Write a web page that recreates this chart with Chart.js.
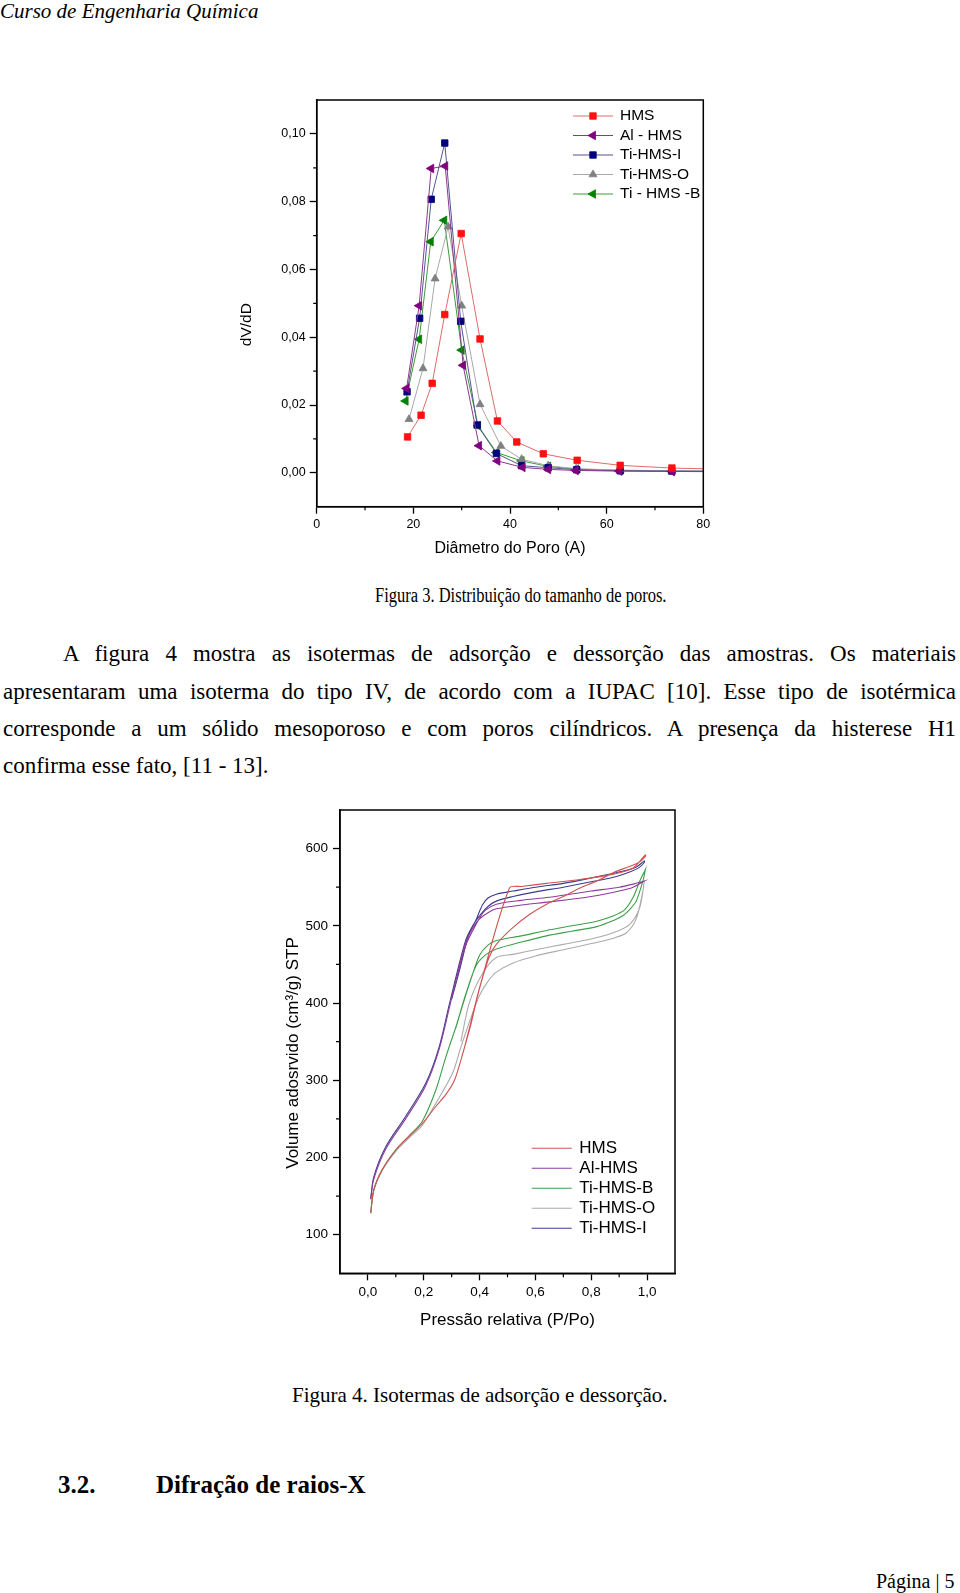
<!DOCTYPE html>
<html>
<head>
<meta charset="utf-8">
<script src="https://cdn.jsdelivr.net/npm/chart.js@4.4.1/dist/chart.umd.min.js"></script>
<style>
  body { margin: 0; background: #fff; }
  #page { position: relative; width: 960px; height: 1593px; overflow: hidden; font-family: 'Liberation Serif', 'Times New Roman', serif; color: #000; }
  .t { position: absolute; white-space: nowrap; line-height: 1; }
  .just { white-space: normal; text-align: justify; text-align-last: justify; }
  canvas { position: absolute; }
</style>
</head>
<body>
<div id="page">
  <div class="t" style="left:0;top:0.5px;font-size:21px;font-style:italic;">Curso de Engenharia Química</div>

  <canvas id="poros" width="520" height="500" style="left:200px;top:80px;"></canvas>

  <div class="t" style="left:375px;top:585px;font-size:20px;transform:scaleX(0.825);transform-origin:left center;">Figura 3. Distribuição do tamanho de poros.</div>

  <div class="t just" style="left:63px;top:641.5px;width:893px;font-size:23px;">A figura 4 mostra as isotermas de adsorção e dessorção das amostras. Os materiais</div>
  <div class="t just" style="left:3px;top:679.5px;width:953px;font-size:23px;">apresentaram uma isoterma do tipo IV, de acordo com a IUPAC [10]. Esse tipo de isotérmica</div>
  <div class="t just" style="left:3px;top:716.5px;width:953px;font-size:23px;">corresponde a um sólido mesoporoso e com poros cilíndricos. A presença da histerese H1</div>
  <div class="t" style="left:3px;top:753.5px;font-size:23px;">confirma esse fato, [11 - 13].</div>

  <canvas id="isotermas" width="450" height="550" style="left:250px;top:790px;"></canvas>

  <div class="t" style="left:292px;top:1384.5px;font-size:21px;">Figura 4. Isotermas de adsorção e dessorção.</div>

  <div class="t" style="left:58px;top:1471.5px;font-size:25px;font-weight:bold;">3.2.</div>
  <div class="t" style="left:156px;top:1471.5px;font-size:25px;font-weight:bold;">Difração de raios-X</div>

  <div class="t" style="left:876px;top:1571px;font-size:20px;">Página | 5</div>
</div>

<script>
// Figura 3 - distribuicao do tamanho de poros
const poreTicks = [0, 20, 40, 60, 80];
const poreMinor = [10, 30, 50, 70];
const dvTicks = [0, 0.02, 0.04, 0.06, 0.08, 0.10];
const dvMinor = [0.01, 0.03, 0.05, 0.07, 0.09];

const hmsD = [18.8, 21.6, 23.9, 26.5, 29.9, 33.8, 37.4, 41.4, 46.9, 53.9, 62.8, 73.5, 86];
const hmsDv = [0.0106, 0.0170, 0.0264, 0.0467, 0.0706, 0.0395, 0.0153, 0.0091, 0.0056, 0.0037, 0.0022, 0.0014, 0.0010];
const alD = [18.6, 21.2, 23.7, 26.6, 30.3, 33.6, 37.4, 42.6, 47.9, 53.6, 62.6, 73.5, 86];
const alDv = [0.0249, 0.0493, 0.0898, 0.0905, 0.0317, 0.0080, 0.0035, 0.0016, 0.0010, 0.0007, 0.0005, 0.0004, 0.0003];
const tiID = [18.7, 21.3, 23.7, 26.5, 29.8, 33.2, 37.2, 42.4, 47.9, 53.8, 62.8, 73.5, 86];
const tiIDv = [0.0239, 0.0456, 0.0807, 0.0973, 0.0447, 0.0141, 0.0057, 0.0021, 0.0015, 0.0009, 0.0006, 0.0005, 0.0004];
const tiOD = [19.1, 22.0, 24.5, 27.2, 30.0, 33.8, 38.1, 42.4, 47.9, 53.7, 62.8, 73.5, 86];
const tiODv = [0.0158, 0.0308, 0.0573, 0.0726, 0.0493, 0.0202, 0.0079, 0.0040, 0.0021, 0.0012, 0.0008, 0.0006, 0.0005];
const tiBD = [18.4, 21.2, 23.6, 26.4, 30.0, 33.4, 37.2, 42.4, 47.9, 53.7, 62.8, 73.5, 86];
const tiBDv = [0.0212, 0.0394, 0.0682, 0.0745, 0.0362, 0.0139, 0.0060, 0.0035, 0.0019, 0.0011, 0.0007, 0.0005, 0.0004];

// Figura 4 - isotermas (adsorcao e dessorcao)
const presTicks = [0, 0.2, 0.4, 0.6, 0.8, 1.0];
const presMinor = [0.1, 0.3, 0.5, 0.7, 0.9];
const volTicks = [100, 200, 300, 400, 500, 600];
const volMinor = [150, 250, 350, 450, 550];

const hmsAdsP = [0.01, 0.021, 0.051, 0.10, 0.147, 0.195, 0.243, 0.28, 0.31, 0.34, 0.37, 0.39, 0.41, 0.435, 0.46, 0.52, 0.58, 0.64, 0.70, 0.76, 0.82, 0.88, 0.93, 0.97, 0.994];
const hmsAdsV = [128, 158, 184, 210, 227, 244, 266, 282, 300, 335, 374, 405, 432, 460, 476, 498, 515, 528, 538, 549, 558, 569, 576, 582, 590];
const hmsDesP = [0.994, 0.95, 0.88, 0.76, 0.64, 0.55, 0.507, 0.40, 0.37, 0.345];
const hmsDesV = [592, 575, 567, 560, 555, 551, 549, 420, 377, 341];

const alAdsP = [0.01, 0.021, 0.064, 0.135, 0.207, 0.255, 0.295, 0.35, 0.38, 0.40, 0.43, 0.46, 0.55, 0.65, 0.80, 0.90, 0.95, 0.99];
const alAdsV = [146, 172, 211, 250, 293, 340, 399, 478, 500, 509, 517, 522, 527, 531, 538, 545, 550, 558];
const alDesP = [0.99, 0.95, 0.90, 0.80, 0.65, 0.55, 0.46, 0.42, 0.40, 0.38, 0.35, 0.32];
const alDesV = [558, 554, 550, 545, 537, 533, 528, 520, 510, 497, 474, 434];

const tiBAdsP = [0.01, 0.021, 0.051, 0.10, 0.147, 0.195, 0.243, 0.279, 0.315, 0.351, 0.387, 0.42, 0.46, 0.55, 0.64, 0.73, 0.82, 0.88, 0.913, 0.94, 0.961, 0.985, 0.994];
const tiBAdsV = [128, 158, 184, 210, 228, 247, 287, 330, 369, 412, 448, 462, 470, 479, 487, 493, 499, 507, 513, 522, 532, 558, 573];
const tiBDesP = [0.994, 0.974, 0.95, 0.92, 0.88, 0.82, 0.73, 0.64, 0.55, 0.46, 0.43, 0.40, 0.37, 0.34, 0.315];
const tiBDesV = [573, 558, 537, 521, 513, 506, 500, 494, 487, 481, 475, 462, 432, 398, 368];

const tiOAdsP = [0.01, 0.021, 0.051, 0.10, 0.147, 0.195, 0.243, 0.303, 0.333, 0.363, 0.40, 0.43, 0.46, 0.52, 0.60, 0.70, 0.80, 0.88, 0.926, 0.961, 0.985, 0.99];
const tiOAdsV = [128, 157, 183, 208, 225, 242, 270, 309, 343, 375, 410, 428, 440, 452, 461, 469, 477, 484, 491, 509, 545, 558];
const tiODesP = [0.99, 0.974, 0.938, 0.878, 0.80, 0.70, 0.60, 0.52, 0.46, 0.41, 0.363, 0.333];
const tiODesV = [558, 524, 502, 491, 483, 476, 469, 463, 459, 438, 400, 350];

const tiIAdsP = [0.01, 0.021, 0.064, 0.135, 0.207, 0.255, 0.292, 0.35, 0.38, 0.40, 0.43, 0.46, 0.52, 0.60, 0.70, 0.80, 0.88, 0.94, 0.97, 0.99];
const tiIAdsV = [146, 175, 214, 253, 296, 343, 399, 481, 503, 513, 525, 532, 538, 544, 550, 557, 563, 570, 575, 582];
const tiIDesP = [0.99, 0.96, 0.88, 0.80, 0.70, 0.60, 0.52, 0.46, 0.43, 0.41, 0.39, 0.36, 0.33, 0.30];
const tiIDesV = [584, 576, 568, 562, 555, 550, 545, 541, 536, 527, 510, 487, 445, 405];

Chart.defaults.color = '#000';
Chart.defaults.font.family = '"Liberation Sans", Arial, sans-serif';

const xy = (xs, ys) => xs.map((v, i) => ({ x: v, y: ys[i] }));
const comma = d => v => v.toFixed(d).replace('.', ',');

// caixa, ticks menores e titulos dos eixos
const frame = {
  id: 'frame',
  afterDraw(chart, args, o) {
    const { ctx, chartArea: a, scales } = chart;
    ctx.save();
    ctx.strokeStyle = '#000';
    ctx.lineWidth = 1.5;
    ctx.strokeRect(a.left, a.top, a.right - a.left, a.bottom - a.top);
    ctx.lineWidth = 1.2;
    ctx.beginPath();
    o.xMinor.forEach(v => {
      const px = scales.x.getPixelForValue(v);
      ctx.moveTo(px, a.bottom);
      ctx.lineTo(px, a.bottom + o.minorLen);
    });
    o.yMinor.forEach(v => {
      const py = scales.y.getPixelForValue(v);
      ctx.moveTo(a.left, py);
      ctx.lineTo(a.left - o.minorLen, py);
    });
    ctx.stroke();
    ctx.fillStyle = '#000';
    ctx.textAlign = 'center';
    ctx.textBaseline = 'middle';
    ctx.font = o.xTitleFont;
    ctx.fillText(o.xTitle, (a.left + a.right) / 2, o.xTitleY);
    ctx.font = o.yTitleFont;
    ctx.translate(o.yTitleX, o.yTitleY);
    ctx.rotate(-Math.PI / 2);
    ctx.fillText(o.yTitle, 0, 0);
    ctx.restore();
  }
};

const sideLegend = {
  id: 'sideLegend',
  afterDraw(chart, args, o) {
    const ctx = chart.ctx;
    ctx.save();
    ctx.font = o.font;
    ctx.textAlign = 'left';
    ctx.textBaseline = 'middle';
    chart.data.datasets.forEach((ds, i) => {
      const y = o.y + i * o.step;
      ctx.strokeStyle = ds.borderColor;
      ctx.lineWidth = ds.borderWidth;
      ctx.beginPath();
      ctx.moveTo(o.x, y);
      ctx.lineTo(o.x + o.lineLen, y);
      ctx.stroke();
      if (ds.pointRadius) {
        ctx.fillStyle = ds.pointBackgroundColor;
        ctx.strokeStyle = ds.pointBorderColor;
        ctx.lineWidth = ds.pointBorderWidth;
        Chart.helpers.drawPoint(ctx, {
          pointStyle: ds.pointStyle,
          radius: ds.pointRadius,
          rotation: ds.pointRotation || 0,
          borderWidth: ds.pointBorderWidth
        }, o.x + o.lineLen / 2, y);
      }
      ctx.fillStyle = '#000';
      ctx.fillText(ds.label, o.textX, y);
    });
    ctx.restore();
  }
};

function axis(min, max, ticks, fmt, size, pad, fit) {
  return {
    type: 'linear', min: min, max: max,
    afterBuildTicks: s => { s.ticks = ticks.map(v => ({ value: v })); },
    afterFit: fit,
    border: { color: '#000', width: 1.5 },
    grid: { drawOnChartArea: false, tickLength: 7, color: '#000', tickWidth: 1.3 },
    ticks: { callback: fmt, font: { size: size }, padding: pad, maxRotation: 0, autoSkip: false }
  };
}

function marker(label, d, v, line, fill, style, r, rot) {
  return {
    label: label, data: xy(d, v),
    borderColor: line, borderWidth: 1,
    pointStyle: style, pointRadius: r, pointRotation: rot,
    pointBackgroundColor: fill, pointBorderColor: fill, pointBorderWidth: 0.8,
    tension: 0
  };
}

new Chart(document.getElementById('poros'), {
  type: 'line',
  data: {
    datasets: [
      marker('HMS', hmsD, hmsDv, '#e06a6a', '#ff1010', 'rect', 4.6, 0),
      marker('Al - HMS', alD, alDv, '#8a3a8a', '#800080', 'triangle', 5, -90),
      marker('Ti-HMS-I', tiID, tiIDv, '#55558f', '#000080', 'rect', 4.6, 0),
      marker('Ti-HMS-O', tiOD, tiODv, '#a8a8a8', '#808080', 'triangle', 4.6, 0),
      marker('Ti - HMS -B', tiBD, tiBDv, '#3c9a3c', '#008000', 'triangle', 5, -90)
    ]
  },
  options: {
    responsive: false, animation: false, devicePixelRatio: 1,
    layout: { padding: { left: 0, top: 20, right: 16.7, bottom: 0 } },
    scales: {
      x: axis(0, 80, poreTicks, comma(0), 12.5, 3, s => { s.height = 73.3; }),
      y: axis(-0.01, 0.11, dvTicks, comma(2), 12.5, 4, s => { s.width = 116.7; })
    },
    plugins: {
      legend: { display: false }, tooltip: { enabled: false },
      frame: {
        xMinor: poreMinor, yMinor: dvMinor, minorLen: 3.5,
        xTitle: 'Diâmetro do Poro (A)', xTitleY: 469, xTitleFont: '16px "Liberation Sans"',
        yTitle: 'dV/dD', yTitleX: 46.7, yTitleY: 244.7, yTitleFont: '15.5px "Liberation Sans"'
      },
      sideLegend: { x: 373, y: 36, step: 19.5, lineLen: 40, textX: 420, font: '15.5px "Liberation Sans"' }
    }
  },
  plugins: [frame, sideLegend]
});

function isoterma(label, adsP, adsV, desP, desV, color) {
  return {
    label: label, data: xy(adsP, adsV).concat(xy(desP, desV)),
    borderColor: color, borderWidth: 1.1, pointRadius: 0, tension: 0.3
  };
}

new Chart(document.getElementById('isotermas'), {
  type: 'line',
  data: {
    datasets: [
      isoterma('HMS', hmsAdsP, hmsAdsV, hmsDesP, hmsDesV, '#d25252'),
      isoterma('Al-HMS', alAdsP, alAdsV, alDesP, alDesV, '#8c3c9c'),
      isoterma('Ti-HMS-B', tiBAdsP, tiBAdsV, tiBDesP, tiBDesV, '#3e9e4a'),
      isoterma('Ti-HMS-O', tiOAdsP, tiOAdsV, tiODesP, tiODesV, '#ababab'),
      isoterma('Ti-HMS-I', tiIAdsP, tiIAdsV, tiIDesP, tiIDesV, '#3c3c8c')
    ]
  },
  options: {
    responsive: false, animation: false, devicePixelRatio: 1,
    layout: { padding: { left: 0, top: 20, right: 25, bottom: 0 } },
    scales: {
      x: axis(-0.1, 1.1, presTicks, comma(1), 13.5, 4, s => { s.height = 66.7; }),
      y: axis(50, 650, volTicks, comma(0), 13.5, 5, s => { s.width = 90; })
    },
    plugins: {
      legend: { display: false }, tooltip: { enabled: false },
      frame: {
        xMinor: presMinor, yMinor: volMinor, minorLen: 4,
        xTitle: 'Pressão relativa (P/Po)', xTitleY: 530, xTitleFont: '17px "Liberation Sans"',
        yTitle: 'Volume adosrvido (cm³/g) STP', yTitleX: 43.6, yTitleY: 263, yTitleFont: '17px "Liberation Sans"'
      },
      sideLegend: { x: 281.7, y: 358.3, step: 20, lineLen: 40, textX: 329.3, font: '17px "Liberation Sans"' }
    }
  },
  plugins: [frame, sideLegend]
});
</script>
</body>
</html>
